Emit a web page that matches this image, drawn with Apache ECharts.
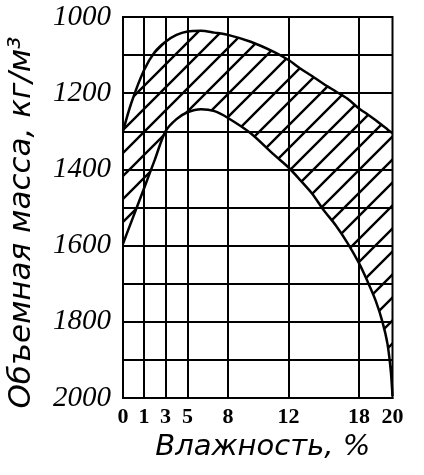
<!DOCTYPE html>
<html>
<head>
<meta charset="utf-8">
<script src="https://cdn.jsdelivr.net/npm/echarts@6/dist/echarts.min.js"></script>
<style>
  html, body { margin: 0; padding: 0; background: #fff; }
  #chart { width: 424px; height: 475px; }
</style>
</head>
<body>
<div id="chart"></div>
<script>
// x axis is not linear: labelled ticks sit at these positions (axis units)
const xTicks = [0, 1, 3, 5, 8, 12, 18, 20];
const xTickPos = [0, 21, 42.5, 64.5, 105, 165.5, 236, 269.5];

const humidity = [0, 0.4, 1, 2, 3, 4, 5, 6, 7, 8, 9.5, 11, 12, 13, 14, 15, 16, 17, 18, 18.5, 19, 19.4, 19.7, 19.9, 20];
// upper boundary of the band (lower density)
const densityLow = [1300, 1225, 1140, 1092, 1065, 1047, 1038, 1036, 1041, 1047, 1065, 1091, 1113, 1135, 1155, 1176, 1195, 1214, 1240, 1255, 1271, 1285, 1295, 1302, 1305];
// lower boundary of the band (higher density)
const densityHigh = [1595, 1537, 1450, 1375, 1300, 1268, 1250, 1242, 1247, 1265, 1305, 1360, 1395, 1428, 1463, 1507, 1546, 1592, 1646, 1693, 1745, 1800, 1858, 1930, 1995];

const yTicksLabelled = [1000, 1200, 1400, 1600, 1800, 2000];

function toPos(h) {
  for (let i = 1; i < xTicks.length; i++) {
    if (h <= xTicks[i]) {
      const t = (h - xTicks[i - 1]) / (xTicks[i] - xTicks[i - 1]);
      return xTickPos[i - 1] + t * (xTickPos[i] - xTickPos[i - 1]);
    }
  }
  return xTickPos[xTickPos.length - 1];
}

// diagonal hatch tile
function hatch(size) {
  const c = document.createElement('canvas');
  c.width = size;
  c.height = size;
  const ctx = c.getContext('2d');
  ctx.strokeStyle = '#000';
  ctx.lineWidth = 2.4;
  ctx.beginPath();
  ctx.moveTo(0, size); ctx.lineTo(size, 0);
  ctx.moveTo(-2, 2); ctx.lineTo(2, -2);
  ctx.moveTo(size - 2, size + 2); ctx.lineTo(size + 2, size - 2);
  ctx.stroke();
  return c;
}

const chart = echarts.init(document.getElementById('chart'));

const sansName = { fontFamily: 'DejaVu Sans', fontStyle: 'italic', color: '#000' };

// value first, position second, so the stack works on y
const lowData = humidity.map((h, i) => [densityLow[i], toPos(h)]);
const bandData = humidity.map((h, i) => [densityHigh[i] - densityLow[i], toPos(h)]);

chart.setOption({
  animation: false,
  backgroundColor: '#fff',
  grid: {
    left: 123, right: 31.5, top: 17, bottom: 77,
    outerBoundsMode: 'none',
    show: true, borderColor: '#000', borderWidth: 2
  },
  xAxis: {
    type: 'value',
    min: 0,
    max: xTickPos[xTickPos.length - 1],
    name: 'Влажность, %',
    nameLocation: 'middle',
    nameGap: 33,
    nameTextStyle: Object.assign({ fontSize: 29, padding: [0, 0, 0, 10] }, sansName),
    axisLine: { show: true, lineStyle: { color: '#000', width: 2 } },
    axisTick: { show: false },
    splitLine: { show: false },
    axisLabel: {
      customValues: xTickPos,
      formatter: (v) => {
        const i = xTickPos.indexOf(v);
        return i >= 0 ? String(xTicks[i]) : '';
      },
      fontFamily: 'Liberation Serif',
      fontWeight: 'bold',
      fontSize: 22,
      color: '#000',
      margin: 8
    }
  },
  yAxis: {
    type: 'value',
    inverse: true,
    min: 1000,
    max: 2000,
    interval: 100,
    name: 'Объемная масса, кг/м³',
    nameLocation: 'middle',
    nameGap: 86,
    nameTextStyle: Object.assign({ fontSize: 31, padding: [0, 30, 0, 0] }, sansName),
    axisLine: { show: true, lineStyle: { color: '#000', width: 2 } },
    axisTick: { show: false },
    splitLine: { show: true, lineStyle: { color: '#000', width: 2 } },
    axisLabel: {
      formatter: (v) => (yTicksLabelled.includes(v) ? String(v) : ''),
      fontFamily: 'Liberation Serif',
      fontStyle: 'italic',
      fontSize: 29,
      color: '#000',
      margin: 12
    }
  },
  series: [
    {
      type: 'line',
      stack: 'band',
      encode: { x: 1, y: 0 },
      smooth: 0.3,
      symbol: 'none',
      data: lowData,
      lineStyle: { color: '#000', width: 2.5 },
      z: 3,
      markLine: {
        silent: true,
        symbol: ['none', 'none'],
        label: { show: false },
        lineStyle: { color: '#000', width: 2, type: 'solid' },
        data: xTickPos.slice(1, -1).map((p) => ({ xAxis: p }))
      }
    },
    {
      type: 'line',
      stack: 'band',
      encode: { x: 1, y: 0 },
      smooth: 0.3,
      symbol: 'none',
      data: bandData,
      lineStyle: { color: '#000', width: 2.5 },
      areaStyle: { color: { image: hatch(23), repeat: 'repeat' }, opacity: 1 },
      z: 3
    }
  ]
});
</script>
</body>
</html>
